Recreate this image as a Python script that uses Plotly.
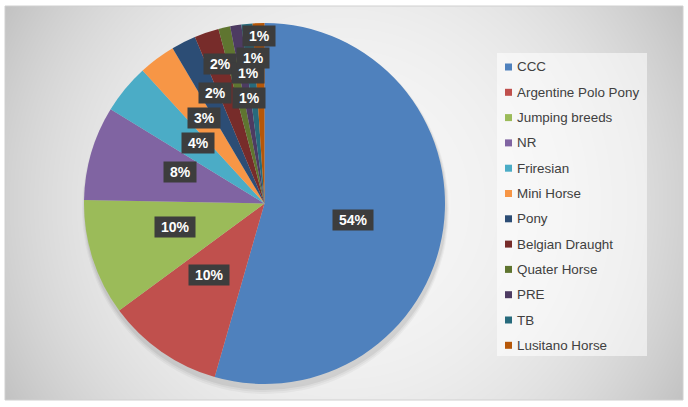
import math, zlib, struct, base64
import numpy as np
import plotly.graph_objects as go

# ---- data ----
breeds = ["CCC", "Argentine Polo Pony", "Jumping breeds", "NR", "Friresian", "Mini Horse",
          "Pony", "Belgian Draught", "Quater Horse", "PRE", "TB", "Lusitano Horse"]
shares = [54.45, 10.45, 10.4, 8.45, 4.45, 3.3, 2.2, 2.2, 1.05, 1.0, 1.0, 1.05]
colors = ["#4F81BD", "#C0504D", "#9BBB59", "#8064A2", "#4BACC6", "#F79646",
          "#2C4D75", "#772C2A", "#5F7530", "#4D3B62", "#276A7C", "#B65708"]

# ---- layout constants ----
W, H = 688, 407
PIE_X = (84, 445)      # px
PIE_Y = (23, 384)      # px (from top)
cx = (PIE_X[0] + PIE_X[1]) / 2
cy = (PIE_Y[0] + PIE_Y[1]) / 2
R = (PIE_X[1] - PIE_X[0]) / 2

# label placement (radius fraction of R, angle nudge in degrees)
lab_frac = [0.50, 0.50, 0.51, 0.50, 0.50, 0.58, 0.67, 0.81, 0.59, 0.73, 0.81, 0.93]
lab_nudge = [2.5, 3, 3, 4, 3, 1.5, 2.5, 1, 4.5, 2, 1, 0]


def px2paper(x, y):
    return x / W, 1 - y / H


# ---- background gradient image ----
def png_gray(arr):
    h, w = arr.shape
    raw = b"".join(b"\x00" + arr[i].tobytes() for i in range(h))

    def chunk(t, d):
        c = struct.pack(">I", len(d)) + t + d
        return c + struct.pack(">I", zlib.crc32(t + d) & 0xFFFFFFFF)

    return (b"\x89PNG\r\n\x1a\n"
            + chunk(b"IHDR", struct.pack(">IIBBBBB", w, h, 8, 0, 0, 0, 0))
            + chunk(b"IDAT", zlib.compress(raw, 9))
            + chunk(b"IEND", b""))


FX0, FY0, FX1, FY1 = 5, 6, 683, 400
gw, gh = FX1 - FX0, FY1 - FY0
yy, xx = np.mgrid[0:gh, 0:gw]
gcx, gcy = gw / 2, gh / 2
d = np.sqrt((xx - gcx) ** 2 + (yy - gcy) ** 2) / math.hypot(gcx, gcy)
g = 246 - 52 * np.clip(d, 0, 1) ** 2.5
img = g.astype(np.uint8)
uri = "data:image/png;base64," + base64.b64encode(png_gray(img)).decode()

fig = go.Figure()
fig.add_trace(go.Pie(
    labels=breeds, values=shares, sort=False, direction="clockwise", rotation=0,
    marker=dict(colors=colors, line=dict(width=0)),
    textinfo="none", hoverinfo="label+percent", showlegend=False,
    domain=dict(x=[PIE_X[0] / W, PIE_X[1] / W], y=[1 - PIE_Y[1] / H, 1 - PIE_Y[0] / H]),
))

shapes = []
# frame
x0, y0 = px2paper(FX0, FY0)
x1, y1 = px2paper(FX1, FY1)
shapes.append(dict(type="rect", xref="paper", yref="paper", x0=x0, y0=y1, x1=x1, y1=y0,
                   line=dict(color="#d0d0d0", width=1), fillcolor="rgba(0,0,0,0)", layer="below"))
# soft pie shadow
for k, a in [(6, 0.035), (4, 0.045), (2, 0.06)]:
    sx0, sy0 = px2paper(cx - R - k / 2 + 1, cy - R - k / 2 + 4)
    sx1, sy1 = px2paper(cx + R + k / 2 + 1, cy + R + k + 4)
    shapes.append(dict(type="circle", xref="paper", yref="paper", x0=sx0, x1=sx1, y0=sy1, y1=sy0,
                       line=dict(width=0), fillcolor=f"rgba(0,0,0,{a})", layer="below"))
# legend box
LX0, LY0, LX1, LY1 = 497, 53, 647, 356
lx0, ly0 = px2paper(LX0, LY0)
lx1, ly1 = px2paper(LX1, LY1)
shapes.append(dict(type="rect", xref="paper", yref="paper", x0=lx0, x1=lx1, y0=ly1, y1=ly0,
                   line=dict(width=0), fillcolor="rgba(255,255,255,0.55)", layer="below"))

annotations = []
LEG_Y0, LEG_DY = 67, 25.3
for i, (name, col) in enumerate(zip(breeds, colors)):
    yc = LEG_Y0 + i * LEG_DY
    mx0, my0 = px2paper(505, yc - 3.5)
    mx1, my1 = px2paper(512, yc + 3.5)
    shapes.append(dict(type="rect", xref="paper", yref="paper", x0=mx0, x1=mx1, y0=my1, y1=my0,
                       line=dict(width=0), fillcolor=col, layer="above"))
    tx, ty = px2paper(515, yc)
    annotations.append(dict(x=tx, y=ty, xref="paper", yref="paper", text=name, showarrow=False,
                            xanchor="left", yanchor="middle",
                            font=dict(family="Arial, Liberation Sans", size=13.4, color="#404040")))

# data labels
total = sum(shares)
cum = 0.0
for i, v in enumerate(shares):
    mid = (cum + v / 2) / total * 360 + lab_nudge[i]
    cum += v
    a = math.radians(mid)
    r = R * lab_frac[i]
    lx, ly = px2paper(cx + r * math.sin(a), cy - r * math.cos(a))
    txt = "\u00a0" + f"{round(100 * v / total)}%" + "\u00a0"
    annotations.append(dict(x=lx, y=ly, xref="paper", yref="paper", text="<b>" + txt + "</b>",
                            showarrow=False, xanchor="center", yanchor="middle",
                            bgcolor="#3d3d3d", borderpad=2,
                            font=dict(family="Arial, Liberation Sans", size=14, color="white")))

fig.update_layout(
    width=W, height=H, margin=dict(l=0, r=0, t=0, b=0),
    paper_bgcolor="white", plot_bgcolor="white",
    shapes=shapes, annotations=annotations,
    images=[dict(source=uri, xref="paper", yref="paper", x=FX0 / W, y=1 - FY0 / H,
                 sizex=gw / W, sizey=gh / H, sizing="stretch", xanchor="left", yanchor="top",
                 layer="below")],
)
fig.write_html("out.html")
